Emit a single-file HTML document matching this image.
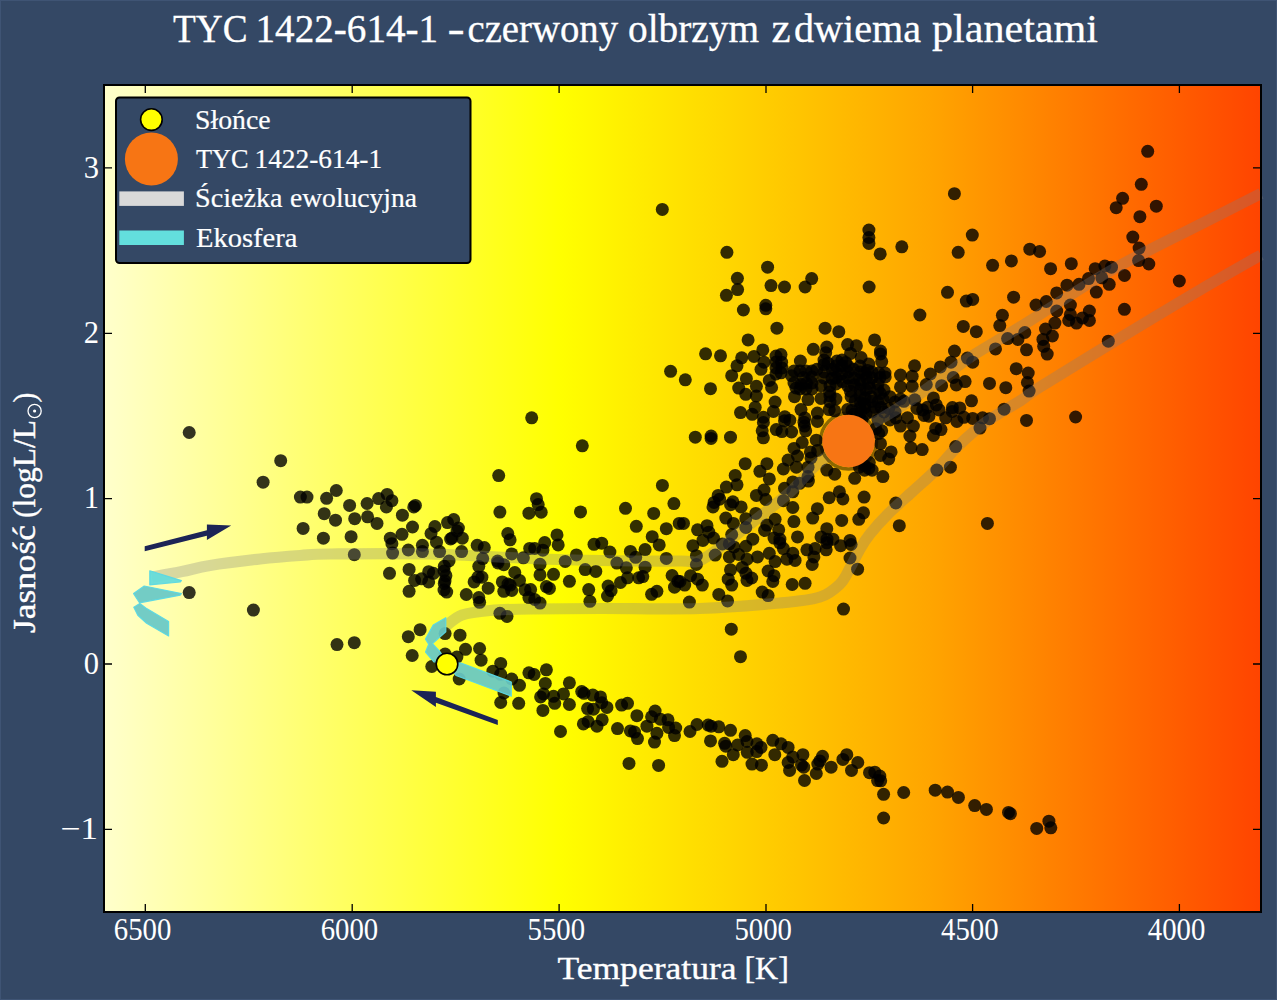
<!DOCTYPE html>
<html><head><meta charset="utf-8">
<style>
html,body{margin:0;padding:0;background:#344865;width:1277px;height:1000px;overflow:hidden}
svg{display:block}
text{font-family:"Liberation Serif",serif;fill:#fff}
</style></head>
<body>
<svg width="1277" height="1000" viewBox="0 0 1277 1000">
<defs>
<linearGradient id="bg" x1="104" y1="0" x2="1261" y2="0" gradientUnits="userSpaceOnUse">
<stop offset="0" stop-color="#ffffcc"/>
<stop offset="0.394" stop-color="#ffff00"/>
<stop offset="0.714" stop-color="#ffa500"/>
<stop offset="1" stop-color="#ff4400"/>
</linearGradient>
</defs>
<rect width="1277" height="1000" fill="#344865"/>
<rect x="104" y="85" width="1157" height="827" fill="url(#bg)"/>
<g fill="#000" fill-opacity="0.8">
<circle cx="662.3" cy="209.4" r="6.5"/>
<circle cx="726.9" cy="252.3" r="6.5"/>
<circle cx="767.6" cy="267.2" r="6.5"/>
<circle cx="737.4" cy="278.3" r="6.5"/>
<circle cx="954.4" cy="193.7" r="6.5"/>
<circle cx="868.9" cy="230.1" r="6.5"/>
<circle cx="868.9" cy="237.5" r="6.5"/>
<circle cx="868.9" cy="243.4" r="6.5"/>
<circle cx="880.2" cy="253.9" r="6.5"/>
<circle cx="901.8" cy="246.8" r="6.5"/>
<circle cx="972.3" cy="235.1" r="6.5"/>
<circle cx="958.2" cy="252.3" r="6.5"/>
<circle cx="992.6" cy="265.3" r="6.5"/>
<circle cx="811.7" cy="278.6" r="6.5"/>
<circle cx="1147.7" cy="151.3" r="6.5"/>
<circle cx="1141.3" cy="184.3" r="6.5"/>
<circle cx="1122.6" cy="198.3" r="6.5"/>
<circle cx="1116.2" cy="207.7" r="6.5"/>
<circle cx="1156.3" cy="206.2" r="6.5"/>
<circle cx="1139.9" cy="216.7" r="6.5"/>
<circle cx="1132.8" cy="237.1" r="6.5"/>
<circle cx="1139.1" cy="248.1" r="6.5"/>
<circle cx="1138.6" cy="260.6" r="6.5"/>
<circle cx="1148.8" cy="264.0" r="6.5"/>
<circle cx="1029.8" cy="249.2" r="6.5"/>
<circle cx="1039.6" cy="251.5" r="6.5"/>
<circle cx="1011.4" cy="260.9" r="6.5"/>
<circle cx="1050.6" cy="268.7" r="6.5"/>
<circle cx="1071.3" cy="263.7" r="6.5"/>
<circle cx="1095.2" cy="268.7" r="6.5"/>
<circle cx="1104.9" cy="266.1" r="6.5"/>
<circle cx="1111.5" cy="267.2" r="6.5"/>
<circle cx="1088.5" cy="278.6" r="6.5"/>
<circle cx="1101.8" cy="277.8" r="6.5"/>
<circle cx="1124.5" cy="275.5" r="6.5"/>
<circle cx="1179.3" cy="281.0" r="6.5"/>
<circle cx="531.7" cy="417.8" r="6.5"/>
<circle cx="670.6" cy="371.3" r="6.5"/>
<circle cx="737.6" cy="289.6" r="6.5"/>
<circle cx="726.4" cy="295.3" r="6.5"/>
<circle cx="771.0" cy="285.6" r="6.5"/>
<circle cx="784.5" cy="287.0" r="6.5"/>
<circle cx="805.1" cy="287.0" r="6.5"/>
<circle cx="743.4" cy="310.0" r="6.5"/>
<circle cx="765.8" cy="305.3" r="6.5"/>
<circle cx="765.8" cy="308.8" r="6.5"/>
<circle cx="776.9" cy="328.2" r="6.5"/>
<circle cx="825.1" cy="328.2" r="6.5"/>
<circle cx="748.1" cy="339.9" r="6.5"/>
<circle cx="705.6" cy="353.8" r="6.5"/>
<circle cx="720.5" cy="355.8" r="6.5"/>
<circle cx="762.8" cy="349.9" r="6.5"/>
<circle cx="741.7" cy="357.8" r="6.5"/>
<circle cx="754.0" cy="356.4" r="6.5"/>
<circle cx="737.0" cy="365.8" r="6.5"/>
<circle cx="764.0" cy="362.2" r="6.5"/>
<circle cx="761.0" cy="369.3" r="6.5"/>
<circle cx="781.0" cy="354.6" r="6.5"/>
<circle cx="781.6" cy="362.2" r="6.5"/>
<circle cx="781.0" cy="372.8" r="6.5"/>
<circle cx="800.4" cy="361.0" r="6.5"/>
<circle cx="813.3" cy="349.3" r="6.5"/>
<circle cx="826.8" cy="347.0" r="6.5"/>
<circle cx="825.7" cy="352.8" r="6.5"/>
<circle cx="816.9" cy="369.3" r="6.5"/>
<circle cx="823.9" cy="364.6" r="6.5"/>
<circle cx="685.3" cy="379.8" r="6.5"/>
<circle cx="731.7" cy="375.7" r="6.5"/>
<circle cx="746.4" cy="378.7" r="6.5"/>
<circle cx="769.3" cy="380.4" r="6.5"/>
<circle cx="791.6" cy="375.7" r="6.5"/>
<circle cx="803.3" cy="377.5" r="6.5"/>
<circle cx="801.0" cy="384.5" r="6.5"/>
<circle cx="710.5" cy="388.7" r="6.5"/>
<circle cx="738.7" cy="388.1" r="6.5"/>
<circle cx="756.4" cy="386.3" r="6.5"/>
<circle cx="771.6" cy="387.5" r="6.5"/>
<circle cx="821.0" cy="385.7" r="6.5"/>
<circle cx="869.1" cy="287.0" r="6.5"/>
<circle cx="947.5" cy="292.3" r="6.5"/>
<circle cx="966.3" cy="301.1" r="6.5"/>
<circle cx="972.7" cy="299.4" r="6.5"/>
<circle cx="919.9" cy="315.0" r="6.5"/>
<circle cx="963.3" cy="326.4" r="6.5"/>
<circle cx="976.3" cy="331.7" r="6.5"/>
<circle cx="838.8" cy="331.7" r="6.5"/>
<circle cx="874.6" cy="339.9" r="6.5"/>
<circle cx="847.6" cy="344.6" r="6.5"/>
<circle cx="856.4" cy="345.8" r="6.5"/>
<circle cx="850.6" cy="353.4" r="6.5"/>
<circle cx="861.1" cy="357.5" r="6.5"/>
<circle cx="880.5" cy="351.1" r="6.5"/>
<circle cx="880.5" cy="354.0" r="6.5"/>
<circle cx="881.7" cy="361.6" r="6.5"/>
<circle cx="837.0" cy="361.0" r="6.5"/>
<circle cx="853.5" cy="369.3" r="6.5"/>
<circle cx="867.6" cy="370.4" r="6.5"/>
<circle cx="832.3" cy="369.3" r="6.5"/>
<circle cx="841.7" cy="374.0" r="6.5"/>
<circle cx="859.4" cy="379.8" r="6.5"/>
<circle cx="830.0" cy="385.7" r="6.5"/>
<circle cx="847.6" cy="385.7" r="6.5"/>
<circle cx="868.8" cy="383.4" r="6.5"/>
<circle cx="885.2" cy="376.9" r="6.5"/>
<circle cx="900.5" cy="375.1" r="6.5"/>
<circle cx="914.6" cy="365.8" r="6.5"/>
<circle cx="912.2" cy="376.3" r="6.5"/>
<circle cx="900.5" cy="386.9" r="6.5"/>
<circle cx="912.2" cy="386.3" r="6.5"/>
<circle cx="930.4" cy="374.0" r="6.5"/>
<circle cx="926.3" cy="384.5" r="6.5"/>
<circle cx="940.4" cy="366.9" r="6.5"/>
<circle cx="954.5" cy="351.1" r="6.5"/>
<circle cx="951.0" cy="362.2" r="6.5"/>
<circle cx="967.4" cy="358.1" r="6.5"/>
<circle cx="972.7" cy="362.2" r="6.5"/>
<circle cx="953.3" cy="377.5" r="6.5"/>
<circle cx="965.1" cy="381.6" r="6.5"/>
<circle cx="941.6" cy="385.7" r="6.5"/>
<circle cx="1067.0" cy="285.2" r="6.5"/>
<circle cx="1079.0" cy="284.3" r="6.5"/>
<circle cx="1109.2" cy="284.3" r="6.5"/>
<circle cx="1056.7" cy="292.9" r="6.5"/>
<circle cx="1096.3" cy="292.1" r="6.5"/>
<circle cx="1013.6" cy="297.2" r="6.5"/>
<circle cx="1036.0" cy="305.0" r="6.5"/>
<circle cx="1046.3" cy="301.5" r="6.5"/>
<circle cx="1056.7" cy="311.0" r="6.5"/>
<circle cx="1070.4" cy="305.0" r="6.5"/>
<circle cx="1070.4" cy="314.5" r="6.5"/>
<circle cx="1089.4" cy="311.0" r="6.5"/>
<circle cx="1082.5" cy="317.9" r="6.5"/>
<circle cx="1089.4" cy="320.5" r="6.5"/>
<circle cx="1068.7" cy="320.5" r="6.5"/>
<circle cx="1076.5" cy="323.1" r="6.5"/>
<circle cx="1054.9" cy="323.1" r="6.5"/>
<circle cx="1045.5" cy="329.1" r="6.5"/>
<circle cx="1052.4" cy="336.0" r="6.5"/>
<circle cx="1042.9" cy="339.4" r="6.5"/>
<circle cx="1043.7" cy="346.3" r="6.5"/>
<circle cx="1047.2" cy="354.1" r="6.5"/>
<circle cx="1124.4" cy="309.3" r="6.5"/>
<circle cx="1002.4" cy="315.3" r="6.5"/>
<circle cx="999.8" cy="325.6" r="6.5"/>
<circle cx="1024.8" cy="332.5" r="6.5"/>
<circle cx="1007.6" cy="338.6" r="6.5"/>
<circle cx="1017.9" cy="339.4" r="6.5"/>
<circle cx="995.5" cy="348.9" r="6.5"/>
<circle cx="1026.5" cy="349.8" r="6.5"/>
<circle cx="1108.3" cy="341.2" r="6.5"/>
<circle cx="1016.2" cy="368.7" r="6.5"/>
<circle cx="1028.2" cy="373.0" r="6.5"/>
<circle cx="989.5" cy="383.4" r="6.5"/>
<circle cx="1005.8" cy="387.7" r="6.5"/>
<circle cx="1027.4" cy="382.5" r="6.5"/>
<circle cx="1029.1" cy="391.1" r="6.5"/>
<circle cx="1004.1" cy="409.2" r="6.5"/>
<circle cx="982.6" cy="417.8" r="6.5"/>
<circle cx="989.5" cy="418.7" r="6.5"/>
<circle cx="1026.5" cy="420.4" r="6.5"/>
<circle cx="1075.6" cy="417.0" r="6.5"/>
<circle cx="980.0" cy="428.1" r="6.5"/>
<circle cx="745.8" cy="394.3" r="6.5"/>
<circle cx="756.4" cy="396.0" r="6.5"/>
<circle cx="775.1" cy="402.0" r="6.5"/>
<circle cx="773.4" cy="411.4" r="6.5"/>
<circle cx="755.2" cy="407.3" r="6.5"/>
<circle cx="752.2" cy="414.3" r="6.5"/>
<circle cx="740.5" cy="412.6" r="6.5"/>
<circle cx="763.4" cy="417.3" r="6.5"/>
<circle cx="763.4" cy="422.5" r="6.5"/>
<circle cx="762.2" cy="430.8" r="6.5"/>
<circle cx="763.4" cy="437.8" r="6.5"/>
<circle cx="776.3" cy="429.6" r="6.5"/>
<circle cx="784.5" cy="420.8" r="6.5"/>
<circle cx="789.8" cy="420.2" r="6.5"/>
<circle cx="791.6" cy="432.0" r="6.5"/>
<circle cx="794.5" cy="396.7" r="6.5"/>
<circle cx="808.0" cy="399.6" r="6.5"/>
<circle cx="821.0" cy="398.5" r="6.5"/>
<circle cx="801.0" cy="409.6" r="6.5"/>
<circle cx="817.4" cy="413.1" r="6.5"/>
<circle cx="817.4" cy="421.4" r="6.5"/>
<circle cx="804.5" cy="426.1" r="6.5"/>
<circle cx="805.7" cy="430.8" r="6.5"/>
<circle cx="829.2" cy="409.6" r="6.5"/>
<circle cx="695.3" cy="437.2" r="6.5"/>
<circle cx="711.1" cy="436.0" r="6.5"/>
<circle cx="711.1" cy="438.4" r="6.5"/>
<circle cx="730.5" cy="437.2" r="6.5"/>
<circle cx="802.2" cy="442.5" r="6.5"/>
<circle cx="816.3" cy="440.2" r="6.5"/>
<circle cx="794.0" cy="448.4" r="6.5"/>
<circle cx="810.4" cy="451.9" r="6.5"/>
<circle cx="797.5" cy="456.0" r="6.5"/>
<circle cx="788.1" cy="460.1" r="6.5"/>
<circle cx="783.4" cy="469.0" r="6.5"/>
<circle cx="796.3" cy="467.2" r="6.5"/>
<circle cx="808.0" cy="467.2" r="6.5"/>
<circle cx="826.8" cy="470.1" r="6.5"/>
<circle cx="745.2" cy="463.7" r="6.5"/>
<circle cx="766.9" cy="463.7" r="6.5"/>
<circle cx="759.9" cy="471.3" r="6.5"/>
<circle cx="769.3" cy="478.9" r="6.5"/>
<circle cx="735.2" cy="475.4" r="6.5"/>
<circle cx="737.0" cy="484.8" r="6.5"/>
<circle cx="726.4" cy="487.1" r="6.5"/>
<circle cx="792.8" cy="481.9" r="6.5"/>
<circle cx="808.0" cy="476.6" r="6.5"/>
<circle cx="784.5" cy="488.3" r="6.5"/>
<circle cx="792.8" cy="491.8" r="6.5"/>
<circle cx="764.0" cy="490.1" r="6.5"/>
<circle cx="756.4" cy="495.4" r="6.5"/>
<circle cx="765.8" cy="499.5" r="6.5"/>
<circle cx="718.2" cy="495.4" r="6.5"/>
<circle cx="714.1" cy="502.4" r="6.5"/>
<circle cx="732.9" cy="501.8" r="6.5"/>
<circle cx="783.4" cy="500.7" r="6.5"/>
<circle cx="829.2" cy="497.7" r="6.5"/>
<circle cx="971.5" cy="400.8" r="6.5"/>
<circle cx="959.8" cy="407.9" r="6.5"/>
<circle cx="952.2" cy="411.4" r="6.5"/>
<circle cx="945.7" cy="417.8" r="6.5"/>
<circle cx="956.9" cy="421.4" r="6.5"/>
<circle cx="963.9" cy="417.3" r="6.5"/>
<circle cx="972.7" cy="418.4" r="6.5"/>
<circle cx="936.3" cy="404.9" r="6.5"/>
<circle cx="933.4" cy="397.9" r="6.5"/>
<circle cx="927.5" cy="407.3" r="6.5"/>
<circle cx="924.0" cy="415.5" r="6.5"/>
<circle cx="916.9" cy="408.4" r="6.5"/>
<circle cx="907.5" cy="417.8" r="6.5"/>
<circle cx="900.5" cy="426.1" r="6.5"/>
<circle cx="913.4" cy="426.1" r="6.5"/>
<circle cx="935.7" cy="428.4" r="6.5"/>
<circle cx="941.0" cy="429.6" r="6.5"/>
<circle cx="933.4" cy="435.5" r="6.5"/>
<circle cx="909.9" cy="436.0" r="6.5"/>
<circle cx="911.0" cy="447.8" r="6.5"/>
<circle cx="922.2" cy="449.6" r="6.5"/>
<circle cx="955.7" cy="446.6" r="6.5"/>
<circle cx="936.9" cy="470.1" r="6.5"/>
<circle cx="950.4" cy="467.2" r="6.5"/>
<circle cx="881.7" cy="430.8" r="6.5"/>
<circle cx="880.5" cy="443.7" r="6.5"/>
<circle cx="891.1" cy="451.9" r="6.5"/>
<circle cx="880.5" cy="455.4" r="6.5"/>
<circle cx="888.7" cy="459.0" r="6.5"/>
<circle cx="868.8" cy="468.4" r="6.5"/>
<circle cx="859.4" cy="467.2" r="6.5"/>
<circle cx="882.9" cy="476.6" r="6.5"/>
<circle cx="854.7" cy="478.3" r="6.5"/>
<circle cx="834.7" cy="474.2" r="6.5"/>
<circle cx="839.4" cy="491.8" r="6.5"/>
<circle cx="864.1" cy="497.1" r="6.5"/>
<circle cx="895.8" cy="503.0" r="6.5"/>
<circle cx="842.9" cy="498.9" r="6.5"/>
<circle cx="835.9" cy="399.0" r="6.5"/>
<circle cx="851.1" cy="396.7" r="6.5"/>
<circle cx="860.5" cy="402.6" r="6.5"/>
<circle cx="871.1" cy="396.7" r="6.5"/>
<circle cx="882.9" cy="399.0" r="6.5"/>
<circle cx="889.9" cy="396.7" r="6.5"/>
<circle cx="900.5" cy="399.0" r="6.5"/>
<circle cx="834.7" cy="410.8" r="6.5"/>
<circle cx="847.6" cy="409.6" r="6.5"/>
<circle cx="860.5" cy="413.1" r="6.5"/>
<circle cx="874.6" cy="407.3" r="6.5"/>
<circle cx="888.7" cy="408.4" r="6.5"/>
<circle cx="895.8" cy="417.8" r="6.5"/>
<circle cx="987.4" cy="523.4" r="6.5"/>
<circle cx="189.2" cy="432.5" r="6.5"/>
<circle cx="280.7" cy="460.7" r="6.5"/>
<circle cx="263.1" cy="482.2" r="6.5"/>
<circle cx="300.4" cy="497.1" r="6.5"/>
<circle cx="307.0" cy="497.1" r="6.5"/>
<circle cx="326.6" cy="498.3" r="6.5"/>
<circle cx="324.2" cy="513.7" r="6.5"/>
<circle cx="303.1" cy="528.4" r="6.5"/>
<circle cx="323.4" cy="538.2" r="6.5"/>
<circle cx="498.7" cy="475.6" r="6.5"/>
<circle cx="499.9" cy="512.1" r="6.5"/>
<circle cx="528.9" cy="513.2" r="6.5"/>
<circle cx="336.3" cy="490.5" r="6.5"/>
<circle cx="349.6" cy="505.4" r="6.5"/>
<circle cx="367.1" cy="503.5" r="6.5"/>
<circle cx="378.6" cy="498.6" r="6.5"/>
<circle cx="387.2" cy="494.4" r="6.5"/>
<circle cx="391.9" cy="500.7" r="6.5"/>
<circle cx="386.4" cy="506.9" r="6.5"/>
<circle cx="415.4" cy="505.4" r="6.5"/>
<circle cx="413.8" cy="506.9" r="6.5"/>
<circle cx="335.5" cy="520.2" r="6.5"/>
<circle cx="354.7" cy="518.7" r="6.5"/>
<circle cx="367.6" cy="516.8" r="6.5"/>
<circle cx="377.0" cy="523.4" r="6.5"/>
<circle cx="402.4" cy="515.2" r="6.5"/>
<circle cx="412.5" cy="527.0" r="6.5"/>
<circle cx="351.1" cy="536.7" r="6.5"/>
<circle cx="402.0" cy="534.3" r="6.5"/>
<circle cx="390.3" cy="538.2" r="6.5"/>
<circle cx="391.9" cy="543.7" r="6.5"/>
<circle cx="434.9" cy="526.5" r="6.5"/>
<circle cx="431.0" cy="533.5" r="6.5"/>
<circle cx="447.5" cy="522.6" r="6.5"/>
<circle cx="453.7" cy="519.5" r="6.5"/>
<circle cx="458.4" cy="528.1" r="6.5"/>
<circle cx="462.3" cy="538.2" r="6.5"/>
<circle cx="450.6" cy="539.0" r="6.5"/>
<circle cx="436.5" cy="542.2" r="6.5"/>
<circle cx="422.4" cy="545.3" r="6.5"/>
<circle cx="408.3" cy="550.0" r="6.5"/>
<circle cx="422.4" cy="551.6" r="6.5"/>
<circle cx="392.6" cy="553.1" r="6.5"/>
<circle cx="354.3" cy="554.7" r="6.5"/>
<circle cx="439.6" cy="551.6" r="6.5"/>
<circle cx="461.6" cy="551.6" r="6.5"/>
<circle cx="449.0" cy="561.0" r="6.5"/>
<circle cx="477.2" cy="545.3" r="6.5"/>
<circle cx="484.3" cy="547.6" r="6.5"/>
<circle cx="507.8" cy="533.5" r="6.5"/>
<circle cx="510.1" cy="539.8" r="6.5"/>
<circle cx="511.7" cy="553.9" r="6.5"/>
<circle cx="523.4" cy="557.8" r="6.5"/>
<circle cx="482.7" cy="558.6" r="6.5"/>
<circle cx="497.6" cy="561.0" r="6.5"/>
<circle cx="529.7" cy="548.4" r="6.5"/>
<circle cx="582.3" cy="445.8" r="6.5"/>
<circle cx="662.4" cy="485.4" r="6.5"/>
<circle cx="536.5" cy="498.7" r="6.5"/>
<circle cx="538.2" cy="504.6" r="6.5"/>
<circle cx="541.2" cy="512.2" r="6.5"/>
<circle cx="580.5" cy="511.9" r="6.5"/>
<circle cx="625.5" cy="508.3" r="6.5"/>
<circle cx="673.9" cy="503.6" r="6.5"/>
<circle cx="653.7" cy="513.4" r="6.5"/>
<circle cx="636.3" cy="526.3" r="6.5"/>
<circle cx="666.3" cy="528.7" r="6.5"/>
<circle cx="679.2" cy="523.4" r="6.5"/>
<circle cx="741.1" cy="506.9" r="6.5"/>
<circle cx="792.8" cy="507.5" r="6.5"/>
<circle cx="817.4" cy="508.7" r="6.5"/>
<circle cx="683.5" cy="523.4" r="6.5"/>
<circle cx="697.6" cy="529.8" r="6.5"/>
<circle cx="707.0" cy="525.7" r="6.5"/>
<circle cx="708.8" cy="532.2" r="6.5"/>
<circle cx="713.5" cy="538.1" r="6.5"/>
<circle cx="702.9" cy="540.4" r="6.5"/>
<circle cx="692.9" cy="545.7" r="6.5"/>
<circle cx="725.8" cy="518.1" r="6.5"/>
<circle cx="733.4" cy="523.4" r="6.5"/>
<circle cx="745.8" cy="518.7" r="6.5"/>
<circle cx="755.8" cy="513.4" r="6.5"/>
<circle cx="731.7" cy="534.5" r="6.5"/>
<circle cx="745.8" cy="527.5" r="6.5"/>
<circle cx="752.8" cy="539.2" r="6.5"/>
<circle cx="745.8" cy="546.3" r="6.5"/>
<circle cx="729.3" cy="543.9" r="6.5"/>
<circle cx="722.3" cy="543.9" r="6.5"/>
<circle cx="715.2" cy="555.1" r="6.5"/>
<circle cx="696.4" cy="555.7" r="6.5"/>
<circle cx="696.4" cy="564.5" r="6.5"/>
<circle cx="729.3" cy="556.9" r="6.5"/>
<circle cx="738.7" cy="554.5" r="6.5"/>
<circle cx="747.0" cy="559.2" r="6.5"/>
<circle cx="757.5" cy="556.9" r="6.5"/>
<circle cx="769.3" cy="553.3" r="6.5"/>
<circle cx="775.1" cy="561.6" r="6.5"/>
<circle cx="766.9" cy="525.1" r="6.5"/>
<circle cx="775.1" cy="519.3" r="6.5"/>
<circle cx="778.7" cy="529.8" r="6.5"/>
<circle cx="774.0" cy="538.1" r="6.5"/>
<circle cx="779.8" cy="542.8" r="6.5"/>
<circle cx="783.4" cy="548.6" r="6.5"/>
<circle cx="793.9" cy="521.6" r="6.5"/>
<circle cx="797.5" cy="536.9" r="6.5"/>
<circle cx="786.9" cy="559.2" r="6.5"/>
<circle cx="792.8" cy="553.3" r="6.5"/>
<circle cx="795.1" cy="560.4" r="6.5"/>
<circle cx="806.9" cy="549.8" r="6.5"/>
<circle cx="815.1" cy="548.6" r="6.5"/>
<circle cx="813.9" cy="556.9" r="6.5"/>
<circle cx="812.2" cy="564.5" r="6.5"/>
<circle cx="812.7" cy="518.1" r="6.5"/>
<circle cx="826.8" cy="528.7" r="6.5"/>
<circle cx="821.0" cy="536.9" r="6.5"/>
<circle cx="826.8" cy="542.8" r="6.5"/>
<circle cx="826.2" cy="549.8" r="6.5"/>
<circle cx="730.5" cy="569.8" r="6.5"/>
<circle cx="742.3" cy="567.4" r="6.5"/>
<circle cx="728.2" cy="579.2" r="6.5"/>
<circle cx="731.7" cy="585.1" r="6.5"/>
<circle cx="747.0" cy="580.4" r="6.5"/>
<circle cx="751.7" cy="578.0" r="6.5"/>
<circle cx="768.1" cy="571.0" r="6.5"/>
<circle cx="774.0" cy="575.7" r="6.5"/>
<circle cx="772.8" cy="581.5" r="6.5"/>
<circle cx="690.6" cy="575.7" r="6.5"/>
<circle cx="684.7" cy="585.1" r="6.5"/>
<circle cx="702.3" cy="585.1" r="6.5"/>
<circle cx="697.6" cy="579.2" r="6.5"/>
<circle cx="680.0" cy="581.5" r="6.5"/>
<circle cx="718.8" cy="594.4" r="6.5"/>
<circle cx="727.6" cy="600.9" r="6.5"/>
<circle cx="762.2" cy="592.1" r="6.5"/>
<circle cx="768.1" cy="595.6" r="6.5"/>
<circle cx="689.4" cy="602.1" r="6.5"/>
<circle cx="792.2" cy="584.5" r="6.5"/>
<circle cx="805.1" cy="583.3" r="6.5"/>
<circle cx="899.3" cy="525.7" r="6.5"/>
<circle cx="841.7" cy="520.4" r="6.5"/>
<circle cx="863.5" cy="512.8" r="6.5"/>
<circle cx="858.8" cy="519.3" r="6.5"/>
<circle cx="832.9" cy="539.2" r="6.5"/>
<circle cx="840.6" cy="545.7" r="6.5"/>
<circle cx="850.0" cy="540.4" r="6.5"/>
<circle cx="851.1" cy="544.5" r="6.5"/>
<circle cx="850.0" cy="558.0" r="6.5"/>
<circle cx="857.6" cy="569.2" r="6.5"/>
<circle cx="843.5" cy="609.1" r="6.5"/>
<circle cx="557.0" cy="534.9" r="6.5"/>
<circle cx="558.2" cy="544.9" r="6.5"/>
<circle cx="544.7" cy="542.6" r="6.5"/>
<circle cx="534.7" cy="548.4" r="6.5"/>
<circle cx="542.9" cy="550.2" r="6.5"/>
<circle cx="540.0" cy="564.3" r="6.5"/>
<circle cx="565.2" cy="561.4" r="6.5"/>
<circle cx="576.4" cy="554.9" r="6.5"/>
<circle cx="540.0" cy="574.9" r="6.5"/>
<circle cx="553.5" cy="574.3" r="6.5"/>
<circle cx="546.4" cy="586.6" r="6.5"/>
<circle cx="549.4" cy="588.4" r="6.5"/>
<circle cx="569.4" cy="581.3" r="6.5"/>
<circle cx="530.6" cy="589.6" r="6.5"/>
<circle cx="534.7" cy="599.5" r="6.5"/>
<circle cx="540.0" cy="603.1" r="6.5"/>
<circle cx="585.2" cy="569.6" r="6.5"/>
<circle cx="595.8" cy="571.4" r="6.5"/>
<circle cx="594.0" cy="544.3" r="6.5"/>
<circle cx="601.7" cy="543.2" r="6.5"/>
<circle cx="609.9" cy="552.0" r="6.5"/>
<circle cx="616.9" cy="563.1" r="6.5"/>
<circle cx="626.3" cy="567.8" r="6.5"/>
<circle cx="588.7" cy="589.6" r="6.5"/>
<circle cx="589.9" cy="601.3" r="6.5"/>
<circle cx="608.1" cy="586.0" r="6.5"/>
<circle cx="611.1" cy="590.7" r="6.5"/>
<circle cx="607.5" cy="596.0" r="6.5"/>
<circle cx="620.5" cy="582.5" r="6.5"/>
<circle cx="627.5" cy="577.8" r="6.5"/>
<circle cx="630.4" cy="551.4" r="6.5"/>
<circle cx="635.7" cy="557.3" r="6.5"/>
<circle cx="645.1" cy="549.6" r="6.5"/>
<circle cx="645.1" cy="567.2" r="6.5"/>
<circle cx="638.7" cy="577.8" r="6.5"/>
<circle cx="642.8" cy="576.6" r="6.5"/>
<circle cx="652.2" cy="536.7" r="6.5"/>
<circle cx="659.2" cy="544.9" r="6.5"/>
<circle cx="666.3" cy="558.4" r="6.5"/>
<circle cx="651.6" cy="594.3" r="6.5"/>
<circle cx="656.9" cy="591.3" r="6.5"/>
<circle cx="672.1" cy="575.5" r="6.5"/>
<circle cx="674.5" cy="587.2" r="6.5"/>
<circle cx="678.0" cy="581.3" r="6.5"/>
<circle cx="389.5" cy="573.3" r="6.5"/>
<circle cx="409.1" cy="569.4" r="6.5"/>
<circle cx="414.6" cy="580.4" r="6.5"/>
<circle cx="421.6" cy="578.8" r="6.5"/>
<circle cx="428.7" cy="571.7" r="6.5"/>
<circle cx="433.4" cy="573.3" r="6.5"/>
<circle cx="428.7" cy="581.9" r="6.5"/>
<circle cx="409.1" cy="591.3" r="6.5"/>
<circle cx="444.3" cy="566.3" r="6.5"/>
<circle cx="445.9" cy="575.7" r="6.5"/>
<circle cx="444.3" cy="583.5" r="6.5"/>
<circle cx="446.7" cy="592.1" r="6.5"/>
<circle cx="478.8" cy="566.3" r="6.5"/>
<circle cx="503.8" cy="564.7" r="6.5"/>
<circle cx="514.8" cy="572.5" r="6.5"/>
<circle cx="519.5" cy="580.4" r="6.5"/>
<circle cx="525.0" cy="589.8" r="6.5"/>
<circle cx="502.3" cy="581.9" r="6.5"/>
<circle cx="510.1" cy="585.1" r="6.5"/>
<circle cx="503.8" cy="591.3" r="6.5"/>
<circle cx="511.7" cy="590.5" r="6.5"/>
<circle cx="474.1" cy="581.9" r="6.5"/>
<circle cx="481.9" cy="577.2" r="6.5"/>
<circle cx="488.2" cy="588.2" r="6.5"/>
<circle cx="466.3" cy="594.5" r="6.5"/>
<circle cx="478.8" cy="597.6" r="6.5"/>
<circle cx="479.6" cy="602.3" r="6.5"/>
<circle cx="528.9" cy="597.6" r="6.5"/>
<circle cx="499.9" cy="613.3" r="6.5"/>
<circle cx="507.0" cy="616.4" r="6.5"/>
<circle cx="337.0" cy="644.6" r="6.5"/>
<circle cx="354.3" cy="642.7" r="6.5"/>
<circle cx="420.1" cy="629.7" r="6.5"/>
<circle cx="408.3" cy="636.7" r="6.5"/>
<circle cx="412.2" cy="655.5" r="6.5"/>
<circle cx="445.1" cy="633.6" r="6.5"/>
<circle cx="460.0" cy="635.2" r="6.5"/>
<circle cx="465.5" cy="649.3" r="6.5"/>
<circle cx="479.6" cy="648.5" r="6.5"/>
<circle cx="481.1" cy="660.2" r="6.5"/>
<circle cx="445.1" cy="654.0" r="6.5"/>
<circle cx="456.9" cy="657.1" r="6.5"/>
<circle cx="431.8" cy="666.5" r="6.5"/>
<circle cx="459.2" cy="679.0" r="6.5"/>
<circle cx="500.7" cy="663.4" r="6.5"/>
<circle cx="492.9" cy="671.2" r="6.5"/>
<circle cx="500.7" cy="674.3" r="6.5"/>
<circle cx="511.7" cy="679.0" r="6.5"/>
<circle cx="519.5" cy="685.3" r="6.5"/>
<circle cx="528.9" cy="672.8" r="6.5"/>
<circle cx="500.7" cy="702.5" r="6.5"/>
<circle cx="518.7" cy="703.3" r="6.5"/>
<circle cx="189.2" cy="592.6" r="6.5"/>
<circle cx="253.4" cy="610.1" r="6.5"/>
<circle cx="534.1" cy="674.5" r="6.5"/>
<circle cx="546.4" cy="669.8" r="6.5"/>
<circle cx="545.3" cy="683.4" r="6.5"/>
<circle cx="569.4" cy="682.8" r="6.5"/>
<circle cx="540.6" cy="696.9" r="6.5"/>
<circle cx="543.5" cy="693.9" r="6.5"/>
<circle cx="553.5" cy="696.3" r="6.5"/>
<circle cx="554.7" cy="703.3" r="6.5"/>
<circle cx="563.5" cy="693.9" r="6.5"/>
<circle cx="569.4" cy="704.5" r="6.5"/>
<circle cx="542.9" cy="710.4" r="6.5"/>
<circle cx="560.5" cy="731.5" r="6.5"/>
<circle cx="581.7" cy="691.6" r="6.5"/>
<circle cx="584.0" cy="693.3" r="6.5"/>
<circle cx="592.8" cy="695.1" r="6.5"/>
<circle cx="600.5" cy="696.9" r="6.5"/>
<circle cx="601.7" cy="702.7" r="6.5"/>
<circle cx="606.9" cy="707.4" r="6.5"/>
<circle cx="587.6" cy="708.6" r="6.5"/>
<circle cx="593.4" cy="709.2" r="6.5"/>
<circle cx="583.4" cy="723.9" r="6.5"/>
<circle cx="588.1" cy="721.5" r="6.5"/>
<circle cx="597.0" cy="726.2" r="6.5"/>
<circle cx="602.2" cy="719.8" r="6.5"/>
<circle cx="621.6" cy="705.1" r="6.5"/>
<circle cx="627.5" cy="703.3" r="6.5"/>
<circle cx="636.9" cy="715.7" r="6.5"/>
<circle cx="617.5" cy="728.6" r="6.5"/>
<circle cx="630.4" cy="730.9" r="6.5"/>
<circle cx="634.5" cy="732.1" r="6.5"/>
<circle cx="637.5" cy="738.6" r="6.5"/>
<circle cx="646.9" cy="726.2" r="6.5"/>
<circle cx="655.1" cy="711.0" r="6.5"/>
<circle cx="651.6" cy="716.8" r="6.5"/>
<circle cx="660.4" cy="719.2" r="6.5"/>
<circle cx="668.0" cy="719.8" r="6.5"/>
<circle cx="668.6" cy="727.4" r="6.5"/>
<circle cx="656.9" cy="733.3" r="6.5"/>
<circle cx="654.5" cy="742.1" r="6.5"/>
<circle cx="675.7" cy="728.0" r="6.5"/>
<circle cx="674.5" cy="735.6" r="6.5"/>
<circle cx="740.5" cy="656.7" r="6.5"/>
<circle cx="690.0" cy="731.5" r="6.5"/>
<circle cx="697.0" cy="724.5" r="6.5"/>
<circle cx="708.2" cy="725.1" r="6.5"/>
<circle cx="711.1" cy="726.2" r="6.5"/>
<circle cx="718.8" cy="726.8" r="6.5"/>
<circle cx="730.5" cy="730.3" r="6.5"/>
<circle cx="710.5" cy="740.9" r="6.5"/>
<circle cx="724.6" cy="743.3" r="6.5"/>
<circle cx="725.8" cy="746.2" r="6.5"/>
<circle cx="745.2" cy="735.6" r="6.5"/>
<circle cx="747.0" cy="741.5" r="6.5"/>
<circle cx="737.6" cy="745.0" r="6.5"/>
<circle cx="756.9" cy="743.8" r="6.5"/>
<circle cx="761.0" cy="747.4" r="6.5"/>
<circle cx="772.8" cy="740.3" r="6.5"/>
<circle cx="781.0" cy="743.8" r="6.5"/>
<circle cx="788.1" cy="747.4" r="6.5"/>
<circle cx="722.0" cy="761.3" r="6.5"/>
<circle cx="733.3" cy="754.7" r="6.5"/>
<circle cx="747.3" cy="752.3" r="6.5"/>
<circle cx="756.7" cy="751.6" r="6.5"/>
<circle cx="752.0" cy="764.1" r="6.5"/>
<circle cx="761.4" cy="765.2" r="6.5"/>
<circle cx="774.8" cy="754.7" r="6.5"/>
<circle cx="788.1" cy="762.5" r="6.5"/>
<circle cx="789.6" cy="770.4" r="6.5"/>
<circle cx="792.8" cy="757.0" r="6.5"/>
<circle cx="802.9" cy="754.7" r="6.5"/>
<circle cx="803.7" cy="767.2" r="6.5"/>
<circle cx="804.5" cy="780.5" r="6.5"/>
<circle cx="816.3" cy="773.5" r="6.5"/>
<circle cx="817.8" cy="764.1" r="6.5"/>
<circle cx="822.5" cy="756.3" r="6.5"/>
<circle cx="831.1" cy="767.2" r="6.5"/>
<circle cx="842.9" cy="759.4" r="6.5"/>
<circle cx="846.8" cy="754.7" r="6.5"/>
<circle cx="851.5" cy="770.4" r="6.5"/>
<circle cx="857.8" cy="762.5" r="6.5"/>
<circle cx="869.5" cy="772.7" r="6.5"/>
<circle cx="879.8" cy="776.1" r="6.5"/>
<circle cx="880.7" cy="780.8" r="6.5"/>
<circle cx="883.6" cy="794.3" r="6.5"/>
<circle cx="903.7" cy="792.5" r="6.5"/>
<circle cx="883.6" cy="818.0" r="6.5"/>
<circle cx="935.2" cy="790.2" r="6.5"/>
<circle cx="947.5" cy="792.1" r="6.5"/>
<circle cx="958.4" cy="797.4" r="6.5"/>
<circle cx="974.7" cy="805.6" r="6.5"/>
<circle cx="986.4" cy="809.4" r="6.5"/>
<circle cx="1008.5" cy="812.4" r="6.5"/>
<circle cx="1010.4" cy="813.7" r="6.5"/>
<circle cx="1036.7" cy="828.4" r="6.5"/>
<circle cx="1048.9" cy="821.2" r="6.5"/>
<circle cx="1050.8" cy="827.8" r="6.5"/>
<circle cx="629.0" cy="763.4" r="6.5"/>
<circle cx="658.6" cy="765.4" r="6.5"/>
<circle cx="731.3" cy="629.2" r="6.5"/>
<circle cx="504.0" cy="693.0" r="6.5"/>
<circle cx="868.8" cy="364.0" r="6.5"/>
<circle cx="806.4" cy="383.2" r="6.5"/>
<circle cx="796.0" cy="388.0" r="6.5"/>
<circle cx="828.0" cy="363.2" r="6.5"/>
<circle cx="845.6" cy="362.4" r="6.5"/>
<circle cx="836.0" cy="372.0" r="6.5"/>
<circle cx="832.0" cy="378.4" r="6.5"/>
<circle cx="842.4" cy="381.6" r="6.5"/>
<circle cx="866.4" cy="377.6" r="6.5"/>
<circle cx="829.6" cy="392.0" r="6.5"/>
<circle cx="850.4" cy="391.2" r="6.5"/>
<circle cx="854.4" cy="384.8" r="6.5"/>
<circle cx="860.0" cy="389.6" r="6.5"/>
<circle cx="869.6" cy="388.0" r="6.5"/>
<circle cx="855.2" cy="400.8" r="6.5"/>
<circle cx="864.8" cy="404.0" r="6.5"/>
<circle cx="852.0" cy="410.4" r="6.5"/>
<circle cx="880.0" cy="377.6" r="6.5"/>
<circle cx="784.8" cy="416.8" r="6.5"/>
<circle cx="804.8" cy="418.0" r="6.5"/>
<circle cx="804.0" cy="422.2" r="6.5"/>
<circle cx="781.9" cy="431.6" r="6.5"/>
<circle cx="817.6" cy="450.4" r="6.5"/>
<circle cx="811.0" cy="457.9" r="6.5"/>
<circle cx="864.6" cy="470.2" r="6.5"/>
<circle cx="872.1" cy="470.2" r="6.5"/>
<circle cx="878.7" cy="433.5" r="6.5"/>
<circle cx="864.6" cy="465.5" r="6.5"/>
<circle cx="869.3" cy="462.6" r="6.5"/>
<circle cx="719.6" cy="499.2" r="6.5"/>
<circle cx="713.0" cy="506.9" r="6.5"/>
<circle cx="730.6" cy="504.7" r="6.5"/>
<circle cx="799.6" cy="483.3" r="6.5"/>
<circle cx="808.4" cy="481.1" r="6.5"/>
<circle cx="764.6" cy="530.4" r="6.5"/>
<circle cx="779.9" cy="539.2" r="6.5"/>
<circle cx="733.9" cy="546.9" r="6.5"/>
<circle cx="827.0" cy="539.2" r="6.5"/>
<circle cx="745.9" cy="573.2" r="6.5"/>
<circle cx="956.3" cy="384.9" r="6.5"/>
<circle cx="864.7" cy="373.1" r="6.5"/>
<circle cx="880.4" cy="393.5" r="6.5"/>
<circle cx="871.7" cy="401.3" r="6.5"/>
<circle cx="864.7" cy="407.6" r="6.5"/>
<circle cx="881.1" cy="407.6" r="6.5"/>
<circle cx="903.9" cy="401.3" r="6.5"/>
<circle cx="914.8" cy="399.8" r="6.5"/>
<circle cx="939.1" cy="409.9" r="6.5"/>
<circle cx="922.6" cy="409.9" r="6.5"/>
<circle cx="928.9" cy="416.2" r="6.5"/>
<circle cx="952.4" cy="407.6" r="6.5"/>
<circle cx="875.7" cy="428.7" r="6.5"/>
<circle cx="801.5" cy="765.1" r="6.5"/>
<circle cx="819.8" cy="760.9" r="6.5"/>
<circle cx="874.8" cy="772.2" r="6.5"/>
<circle cx="877.6" cy="780.6" r="6.5"/>
<circle cx="865.0" cy="398.0" r="6.5"/>
<circle cx="895.0" cy="402.0" r="6.5"/>
<circle cx="872.0" cy="412.0" r="6.5"/>
<circle cx="884.0" cy="412.0" r="6.5"/>
<circle cx="895.0" cy="412.0" r="6.5"/>
<circle cx="862.0" cy="420.0" r="6.5"/>
<circle cx="878.0" cy="420.0" r="6.5"/>
<circle cx="890.0" cy="420.0" r="6.5"/>
<circle cx="824.0" cy="360.0" r="6.5"/>
<circle cx="842.0" cy="360.0" r="6.5"/>
<circle cx="836.0" cy="366.0" r="6.5"/>
<circle cx="842.0" cy="366.0" r="6.5"/>
<circle cx="848.0" cy="366.0" r="6.5"/>
<circle cx="860.0" cy="366.0" r="6.5"/>
<circle cx="824.0" cy="372.0" r="6.5"/>
<circle cx="848.0" cy="372.0" r="6.5"/>
<circle cx="860.0" cy="372.0" r="6.5"/>
<circle cx="872.0" cy="372.0" r="6.5"/>
<circle cx="824.0" cy="378.0" r="6.5"/>
<circle cx="836.0" cy="378.0" r="6.5"/>
<circle cx="848.0" cy="378.0" r="6.5"/>
<circle cx="854.0" cy="378.0" r="6.5"/>
<circle cx="872.0" cy="378.0" r="6.5"/>
<circle cx="836.0" cy="384.0" r="6.5"/>
<circle cx="860.0" cy="384.0" r="6.5"/>
<circle cx="878.0" cy="384.0" r="6.5"/>
<circle cx="866.0" cy="390.0" r="6.5"/>
<circle cx="878.0" cy="390.0" r="6.5"/>
<circle cx="884.0" cy="390.0" r="6.5"/>
<circle cx="830.0" cy="396.0" r="6.5"/>
<circle cx="860.0" cy="396.0" r="6.5"/>
<circle cx="830.0" cy="402.0" r="6.5"/>
<circle cx="878.0" cy="402.0" r="6.5"/>
<circle cx="860.0" cy="408.0" r="6.5"/>
<circle cx="854.0" cy="414.0" r="6.5"/>
<circle cx="866.0" cy="414.0" r="6.5"/>
<circle cx="794.0" cy="371.0" r="6.5"/>
<circle cx="800.0" cy="371.0" r="6.5"/>
<circle cx="806.0" cy="371.0" r="6.5"/>
<circle cx="812.0" cy="371.0" r="6.5"/>
<circle cx="812.0" cy="377.0" r="6.5"/>
<circle cx="794.0" cy="383.0" r="6.5"/>
<circle cx="812.0" cy="383.0" r="6.5"/>
<circle cx="800.0" cy="389.0" r="6.5"/>
<circle cx="806.0" cy="389.0" r="6.5"/>
<circle cx="812.0" cy="389.0" r="6.5"/>
<circle cx="776.0" cy="356.0" r="6.5"/>
<circle cx="776.0" cy="362.0" r="6.5"/>
<circle cx="776.0" cy="368.0" r="6.5"/>
<circle cx="782.0" cy="368.0" r="6.5"/>
<circle cx="776.0" cy="374.0" r="6.5"/>
<circle cx="879.0" cy="373.0" r="6.5"/>
<circle cx="885.0" cy="373.0" r="6.5"/>
<circle cx="444.0" cy="571.0" r="6.5"/>
<circle cx="445.0" cy="581.0" r="6.5"/>
<circle cx="444.0" cy="590.0" r="6.5"/>
<circle cx="452.0" cy="538.0" r="6.5"/>
<circle cx="457.0" cy="531.0" r="6.5"/>
<circle cx="498.0" cy="563.0" r="6.5"/>
<circle cx="508.0" cy="584.0" r="6.5"/>
<circle cx="478.0" cy="577.0" r="6.5"/>
</g>
<g fill="none" stroke="#7d7d80" stroke-opacity="0.3" stroke-width="11.2"><path d="M152 577 C157.0 576.1 172.3 573.4 182 571.5 C191.7 569.6 197.0 567.6 210 565.5 C223.0 563.4 245.0 560.7 260 559 C275.0 557.3 288.3 556.3 300 555.5 C311.7 554.7 308.3 554.2 330 554 C351.7 553.8 396.7 553.2 430 554 C463.3 554.8 501.7 557.4 530 558.5 C558.3 559.6 575.0 560.1 600 560.5 C625.0 560.9 662.8 561.2 680 561 C697.2 560.8 692.2 564.5 703 559 C713.8 553.5 730.7 539.0 745 528 C759.3 517.0 777.3 503.3 789 493 C800.7 482.7 805.1 474.7 815 466 C824.9 457.3 843.0 445.2 848.6 441 M873.3 423.2 C879.1 419.7 897.0 409.2 908 402 C919.0 394.8 928.3 387.7 939 380 C949.7 372.3 958.5 364.8 972 356 C985.5 347.2 997.0 341.2 1020 327 C1043.0 312.8 1080.0 288.1 1110 271 C1140.0 253.9 1174.8 237.4 1200 224.5 C1225.2 211.6 1250.8 198.7 1261 193.5"/><path d="M446 626 C448.7 624.2 454.7 617.6 462 615 C469.3 612.4 478.7 611.5 490 610.5 C501.3 609.5 511.7 609.3 530 609 C548.3 608.7 571.7 608.6 600 608.5 C628.3 608.4 670.0 609.4 700 608.5 C730.0 607.6 760.0 604.9 780 603 C800.0 601.1 810.0 600.2 820 597 C830.0 593.8 835.0 588.8 840 584 C845.0 579.2 846.7 573.8 850 568 C853.3 562.2 856.7 554.7 860 549 C863.3 543.3 865.3 539.8 870 534 C874.7 528.2 881.0 521.0 888 514 C895.0 507.0 904.0 499.3 912 492 C920.0 484.7 928.3 477.7 936 470 C943.7 462.3 949.7 454.0 958 446 C966.3 438.0 975.7 429.5 986 422 C996.3 414.5 1011.0 406.8 1020 401 C1029.0 395.2 1023.3 397.5 1040 387 C1056.7 376.5 1093.3 354.2 1120 338 C1146.7 321.8 1176.5 303.8 1200 290 C1223.5 276.2 1250.8 260.8 1261 255"/></g>
<g fill="#68c8c6" fill-opacity="0.93" stroke="#5ad8e4" stroke-opacity="0.95" stroke-width="1.2" stroke-linejoin="round">
<polygon fill="#62dcdc" points="149.8,570.8 181.4,580.6 180.2,582 149.8,584.8"/>
<polygon points="144.2,586 181.4,593.6 180.2,595.2 139.5,602.8 133.6,593.6"/>
<polygon points="133.8,607.2 139.8,603.6 145.8,608 168.6,621.6 168.6,636 146.6,623.2 137.8,615.2"/>
<polygon points="445.8,617.7 433.2,625.1 425.5,639.1 428.7,644.3 425.5,652 433.9,661.8 461,663 511.3,682 511.3,696.2 456,675.5 440.2,652 432.5,643.6 445.8,631.7"/>
</g>
<g fill="#1c2456">
<polygon points="144.7,546.3 206.9,530.3 206.9,524.4 231.2,525.6 206.9,539.9 206.9,535.8 144.7,551.2"/>
<polygon points="497.8,719.9 435.9,697.1 435.9,691.7 411.3,690.2 435.9,707 435.9,702.7 497.8,725"/>
</g>
<circle cx="447" cy="664" r="10.8" fill="#ffff00" stroke="#000" stroke-width="1.6"/>
<circle cx="848.6" cy="441" r="28" fill="none" stroke="#000" stroke-opacity="0.45" stroke-width="3.4"/>
<circle cx="848.6" cy="441" r="26.3" fill="#f77514"/><g fill="none" stroke="#000" stroke-width="1.3">
<path d="M145.3 912V904M145.3 85V93"/>
<path d="M352.2 912V904M352.2 85V93"/>
<path d="M559.1 912V904M559.1 85V93"/>
<path d="M766.0 912V904M766.0 85V93"/>
<path d="M972.6 912V904M972.6 85V93"/>
<path d="M1179.4 912V904M1179.4 85V93"/>
<path d="M104 167.9H112M1261 167.9H1253"/>
<path d="M104 333.3H112M1261 333.3H1253"/>
<path d="M104 498.6H112M1261 498.6H1253"/>
<path d="M104 664.0H112M1261 664.0H1253"/>
<path d="M104 829.4H112M1261 829.4H1253"/>
</g>
<rect x="104" y="85" width="1157" height="827" fill="none" stroke="#000" stroke-width="2"/>
<g font-size="30.5" text-anchor="middle">
<text x="142.5" y="940" textLength="57.5" lengthAdjust="spacingAndGlyphs">6500</text>
<text x="349.4" y="940" textLength="57.5" lengthAdjust="spacingAndGlyphs">6000</text>
<text x="556.3" y="940" textLength="57.5" lengthAdjust="spacingAndGlyphs">5500</text>
<text x="763.2" y="940" textLength="57.5" lengthAdjust="spacingAndGlyphs">5000</text>
<text x="969.8" y="940" textLength="57.5" lengthAdjust="spacingAndGlyphs">4500</text>
<text x="1176.6" y="940" textLength="57.5" lengthAdjust="spacingAndGlyphs">4000</text>
</g>
<g font-size="30.5" text-anchor="end">
<text x="99" y="177.7">3</text>
<text x="99" y="343.1">2</text>
<text x="99" y="508.4">1</text>
<text x="99" y="673.8">0</text>
<text x="98" y="838.9" textLength="37.8" lengthAdjust="spacingAndGlyphs">−1</text>
</g>
<g font-size="31" stroke="#fff" stroke-width="0.35"><text x="557.5" y="978.8" textLength="179.0" lengthAdjust="spacingAndGlyphs">Temperatura</text><text x="744.5" y="978.8" textLength="44.3" lengthAdjust="spacingAndGlyphs">[K]</text></g>
<g transform="rotate(-90)" font-size="31" stroke="#fff" stroke-width="0.35"><text x="-633.0" y="35.1" textLength="108.0" lengthAdjust="spacingAndGlyphs">Jasność</text><text x="-518.0" y="35.1" textLength="98.0" lengthAdjust="spacingAndGlyphs">(logL/L</text><text x="-402.5" y="35.1" textLength="9.9" lengthAdjust="spacingAndGlyphs">)</text></g>
<circle cx="34.6" cy="411" r="6.6" fill="none" stroke="#fff" stroke-width="1.3"/><circle cx="34.6" cy="411" r="1.6" fill="#fff"/>
<rect x="116" y="97.5" width="354.5" height="165.5" rx="3.5" fill="#344865" stroke="#000" stroke-width="2"/>
<circle cx="151.4" cy="119.6" r="10.8" fill="#ffff00" stroke="#000" stroke-width="1.6"/>
<circle cx="151.4" cy="159" r="26.5" fill="#f77514"/>
<rect x="119.3" y="191.4" width="64.6" height="14.5" fill="#d9d9d9"/>
<rect x="119.3" y="230.5" width="64.6" height="14.5" fill="#63dfdd"/>
<g font-size="26.5" stroke="#fff" stroke-width="0.2">
<text x="195.0" y="129" textLength="75.6" lengthAdjust="spacingAndGlyphs">Słońce</text>
<text x="196.0" y="168" textLength="52.6" lengthAdjust="spacingAndGlyphs">TYC</text><text x="254.5" y="168" textLength="127.6" lengthAdjust="spacingAndGlyphs">1422-614-1</text>
<text x="195.0" y="207.3" textLength="87.5" lengthAdjust="spacingAndGlyphs">Ścieżka</text><text x="290.0" y="207.3" textLength="127.0" lengthAdjust="spacingAndGlyphs">ewolucyjna</text>
<text x="196.0" y="246.7" textLength="101.5" lengthAdjust="spacingAndGlyphs">Ekosfera</text>
</g>
<g font-size="39.4" stroke="#fff" stroke-width="0.3">
<text x="173.0" y="42" textLength="74.6" lengthAdjust="spacingAndGlyphs">TYC</text>
<text x="255.5" y="42" textLength="182.7" lengthAdjust="spacingAndGlyphs">1422-614-1</text>
<text x="447.5" y="42" textLength="17.2" lengthAdjust="spacingAndGlyphs">-</text>
<text x="467.5" y="42" textLength="150.5" lengthAdjust="spacingAndGlyphs">czerwony</text>
<text x="628.0" y="42" textLength="131.0" lengthAdjust="spacingAndGlyphs">olbrzym</text>
<text x="771.5" y="42" textLength="19.2" lengthAdjust="spacingAndGlyphs">z</text>
<text x="794.0" y="42" textLength="127.0" lengthAdjust="spacingAndGlyphs">dwiema</text>
<text x="932.0" y="42" textLength="166.0" lengthAdjust="spacingAndGlyphs">planetami</text>
</g>
<rect x="0.5" y="0.5" width="1276" height="999" fill="none" stroke="#3f5474" stroke-width="1"/>
</svg>
</body></html>
